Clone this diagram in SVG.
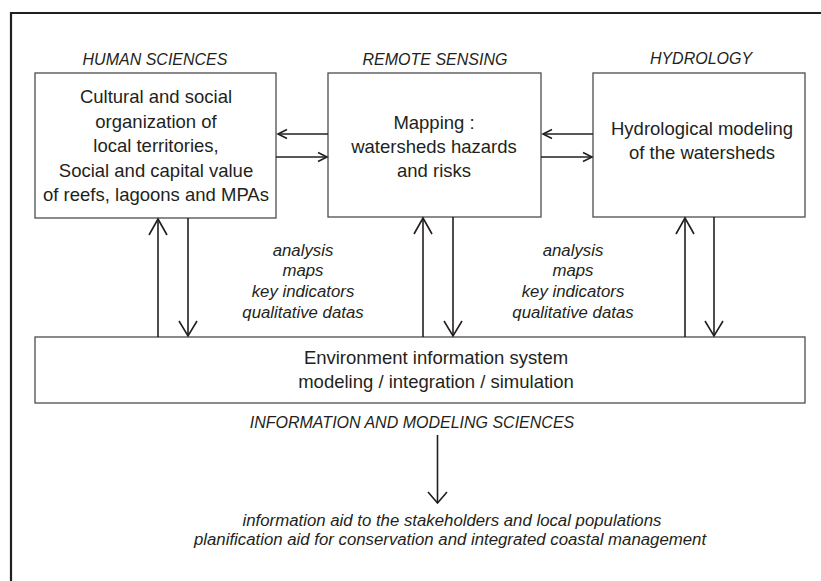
<svg xmlns="http://www.w3.org/2000/svg" width="821" height="581" viewBox="0 0 821 581">
  <style>
    .frame { fill: none; stroke: #231f20; stroke-width: 2.2; }
    .box { fill: #ffffff; stroke: #4d4d4f; stroke-width: 1.3; }
    .line { fill: none; stroke: #231f20; stroke-width: 1.6; }
    .head { fill: none; stroke: #231f20; stroke-width: 1.6; stroke-linejoin: miter; }
    text { font-family: "Liberation Sans", Arial, sans-serif; fill: #231f20; text-anchor: middle; }
    .body { font-size: 18.5px; }
    .title { font-size: 16px; font-style: italic; }
    .note { font-size: 16.8px; font-style: italic; }
  </style>

  <!-- page frame (top and left edges) -->
  <path class="frame" d="M11,581 V13 H821"/>

  <!-- section titles -->
  <g id="titles">
    <text class="title" x="155" y="65">HUMAN SCIENCES</text>
    <text class="title" x="435" y="65">REMOTE SENSING</text>
    <text class="title" x="701" y="64">HYDROLOGY</text>
    <text class="title" x="412" y="428">INFORMATION AND MODELING SCIENCES</text>
  </g>

  <g id="human-sciences">
    <rect class="box" x="35" y="73" width="241" height="145"/>
    <text class="body" x="156" y="103">Cultural and social</text>
    <text class="body" x="156" y="128">organization of</text>
    <text class="body" x="156" y="152">local territories,</text>
    <text class="body" x="156" y="177">Social and capital value</text>
    <text class="body" x="156" y="201">of reefs, lagoons and MPAs</text>
  </g>

  <g id="remote-sensing">
    <rect class="box" x="328" y="73" width="213" height="144"/>
    <text class="body" x="434" y="129">Mapping :</text>
    <text class="body" x="434" y="153">watersheds hazards</text>
    <text class="body" x="434" y="177">and risks</text>
  </g>

  <g id="hydrology">
    <rect class="box" x="593" y="73" width="212" height="144"/>
    <text class="body" x="702" y="135">Hydrological modeling</text>
    <text class="body" x="702" y="159">of the watersheds</text>
  </g>

  <g id="information-system">
    <rect class="box" x="35" y="337" width="770" height="66"/>
    <text class="body" x="436" y="364">Environment information system</text>
    <text class="body" x="436" y="388">modeling / integration / simulation</text>
  </g>

  <g id="exchange-labels">
    <text class="note" x="303" y="256">analysis</text>
    <text class="note" x="303" y="276">maps</text>
    <text class="note" x="303" y="297">key indicators</text>
    <text class="note" x="303" y="318">qualitative datas</text>
    <text class="note" x="573" y="256">analysis</text>
    <text class="note" x="573" y="276">maps</text>
    <text class="note" x="573" y="297">key indicators</text>
    <text class="note" x="573" y="318">qualitative datas</text>
  </g>

  <g id="outputs">
    <text class="note" x="452" y="526">information aid to the stakeholders and local populations</text>
    <text class="note" x="450" y="545">planification aid for conservation and integrated coastal management</text>
  </g>

  <g id="connectors">
    <!-- horizontal exchanges between the top boxes -->
    <line class="line" x1="328" y1="134" x2="278" y2="134"/>
    <path class="head" d="M287,129.5 L278,134 L287,138.5"/>
    <line class="line" x1="276" y1="157" x2="326.5" y2="157"/>
    <path class="head" d="M318,152.5 L327,157 L318,161.5"/>

    <line class="line" x1="593" y1="134" x2="543" y2="134"/>
    <path class="head" d="M552,129.5 L543,134 L552,138.5"/>
    <line class="line" x1="541" y1="157" x2="591.5" y2="157"/>
    <path class="head" d="M583,152.5 L592,157 L583,161.5"/>

    <!-- vertical exchanges with the information system -->
    <line class="line" x1="158" y1="337" x2="158" y2="219"/>
    <path class="head" d="M149,235 L158,219 L167,235"/>
    <line class="line" x1="188" y1="218" x2="188" y2="336"/>
    <path class="head" d="M179,321 L188,336 L197,321"/>

    <line class="line" x1="423" y1="337" x2="423" y2="218"/>
    <path class="head" d="M414,234 L423,218 L432,234"/>
    <line class="line" x1="453" y1="217" x2="453" y2="336"/>
    <path class="head" d="M444,321 L453,336 L462,321"/>

    <line class="line" x1="685" y1="337" x2="685" y2="218"/>
    <path class="head" d="M676,234 L685,218 L694,234"/>
    <line class="line" x1="714" y1="217" x2="714" y2="336"/>
    <path class="head" d="M705,321 L714,336 L723,321"/>

    <!-- output arrow -->
    <line class="line" x1="437.5" y1="435" x2="437.5" y2="503"/>
    <path class="head" d="M428,492 L437.5,503 L447,492"/>
  </g>
</svg>
